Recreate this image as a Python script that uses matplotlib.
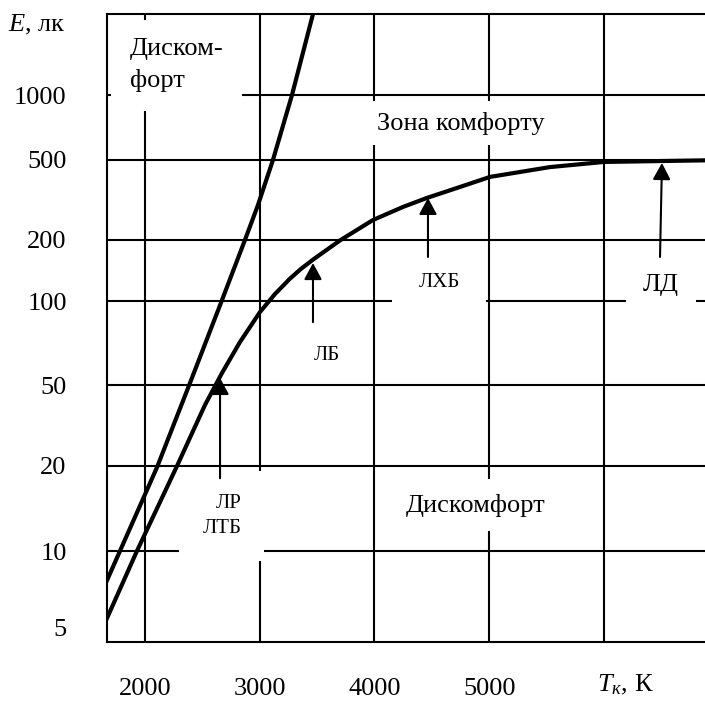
import matplotlib
matplotlib.use('Agg')
import matplotlib.pyplot as plt
import numpy as np

plt.rcParams['font.family'] = ['Liberation Serif', 'DejaVu Serif']
plt.rcParams['mathtext.fontset'] = 'custom'
plt.rcParams['mathtext.rm'] = 'Liberation Serif'
plt.rcParams['mathtext.it'] = 'Liberation Serif:italic'

# curve values (T in K, E in lx)
T_upper = [1670, 1782, 2105, 2392, 2671, 2871, 2985, 3115, 3281, 3464]
E_upper = [7.67, 10, 19.8, 50.8, 101, 200, 299, 500, 1000, 2000]

T_lower = [1670, 1930, 2279, 2523, 2671, 2828, 3002, 3133, 3264, 3359, 3464, 3699, 3987,
           4248, 4458, 4719, 5007, 5529, 5999, 6880]
E_lower = [5.43, 10, 20, 39.9, 55.2, 71.3, 91.3, 108.3, 129, 144, 160, 199, 251.5,
           292, 324, 363, 412, 461, 489, 498]

T_grid = [2000, 3000, 4000, 5000, 6000]
E_grid = [10, 20, 50, 100, 200, 500, 1000]
E_ticks = [5, 10, 20, 50, 100, 200, 500, 1000]
T_ticks = [2000, 3000, 4000, 5000]

# the printed E axis is not a true log axis, so use a piecewise scale
scale_E = [4.36, 5, 10, 20, 50, 100, 200, 500, 1000, 2000]
scale_h = [0, 15, 91, 176, 257, 341, 402, 482, 547, 628]


def fwd(v):
    v = np.clip(np.asarray(v, dtype=float), 1e-6, None)
    return np.interp(np.log10(v), np.log10(scale_E), scale_h)


def inv(h):
    return 10 ** np.interp(np.asarray(h, dtype=float), scale_h, np.log10(scale_E))


fig = plt.figure(figsize=(7.05, 7.01), dpi=100)
ax = fig.add_axes([107 / 705, 59 / 701, 598 / 705, 628 / 701])
ax.set_yscale('function', functions=(fwd, inv))
ax.set_xlim(1669, 6880)
ax.set_ylim(4.36, 2000)

for v in E_grid:
    ax.axhline(v, color='k', lw=1.5, zorder=1)
for t in T_grid:
    ax.axvline(t, color='k', lw=1.5, zorder=1)

ax.plot(T_upper, E_upper, color='k', lw=3, zorder=3, solid_joinstyle='round')
ax.plot(T_lower, E_lower, color='k', lw=3, zorder=3, solid_joinstyle='round')

ax.spines['right'].set_visible(False)
for s in ['left', 'top', 'bottom']:
    ax.spines[s].set_linewidth(1.5)

ax.set_yticks(E_ticks)
ax.set_yticklabels([str(v) for v in E_ticks])
ax.yaxis.set_minor_locator(matplotlib.ticker.NullLocator())
ax.set_xticks(T_ticks)
ax.set_xticklabels([str(v) for v in T_ticks])
ax.tick_params(axis='y', length=0, pad=29, labelsize=19)
ax.tick_params(axis='x', length=0, pad=26, labelsize=19)

ax.text(5940, -22 / 72 * 100 / 628, '$T_к$, К', transform=ax.get_xaxis_transform(),
        ha='left', va='top', fontsize=19)
fig.text(8 / 705, 1 - 25 / 701, '$E$, лк', ha='left', va='center', fontsize=19)

box = dict(facecolor='white', edgecolor='none')

ax.text(1869, 1290, 'Диском-\nфорт', ha='left', va='center', fontsize=19, linespacing=1.5,
        bbox=dict(box, boxstyle='square,pad=0.7'), zorder=2)
ax.text(4754, 740, 'Зона комфорту', ha='center', va='center', fontsize=19,
        bbox=dict(box, boxstyle='square,pad=0.4'), zorder=2)
ax.text(4885, 14.5, 'Дискомфорт', ha='center', va='center', fontsize=19,
        bbox=dict(box, boxstyle='square,pad=0.55'), zorder=2)
ax.text(2670, 13.3, 'ЛР\nЛТБ', ha='center', va='center', multialignment='right', fontsize=15,
        linespacing=1.4, bbox=dict(box, boxstyle='square,pad=1.1'), zorder=2)
ax.text(4562, 123, 'ЛХБ', ha='center', va='center', fontsize=15,
        bbox=dict(box, boxstyle='square,pad=1.25'), zorder=2)
ax.text(6497, 120, 'ЛД', ha='center', va='center', fontsize=19,
        bbox=dict(box, boxstyle='square,pad=0.65'), zorder=2)
ax.text(3586, 64, 'ЛБ', ha='center', va='center', fontsize=15, zorder=2)

arrow = dict(arrowstyle='-|>,head_length=0.5,head_width=0.27', color='k', lw=1.5,
             shrinkA=0, shrinkB=0, mutation_scale=20)
ax.annotate('', xy=(2654, 53), xytext=(2654, 18.1), arrowprops=arrow, zorder=4)
ax.annotate('', xy=(3464, 154), xytext=(3464, 84), arrowprops=arrow, zorder=4)
ax.annotate('', xy=(4466, 324), xytext=(4466, 165), arrowprops=arrow, zorder=4)
ax.annotate('', xy=(6505, 483), xytext=(6488, 165), arrowprops=arrow, zorder=4)

fig.savefig('out.png', dpi=100)
